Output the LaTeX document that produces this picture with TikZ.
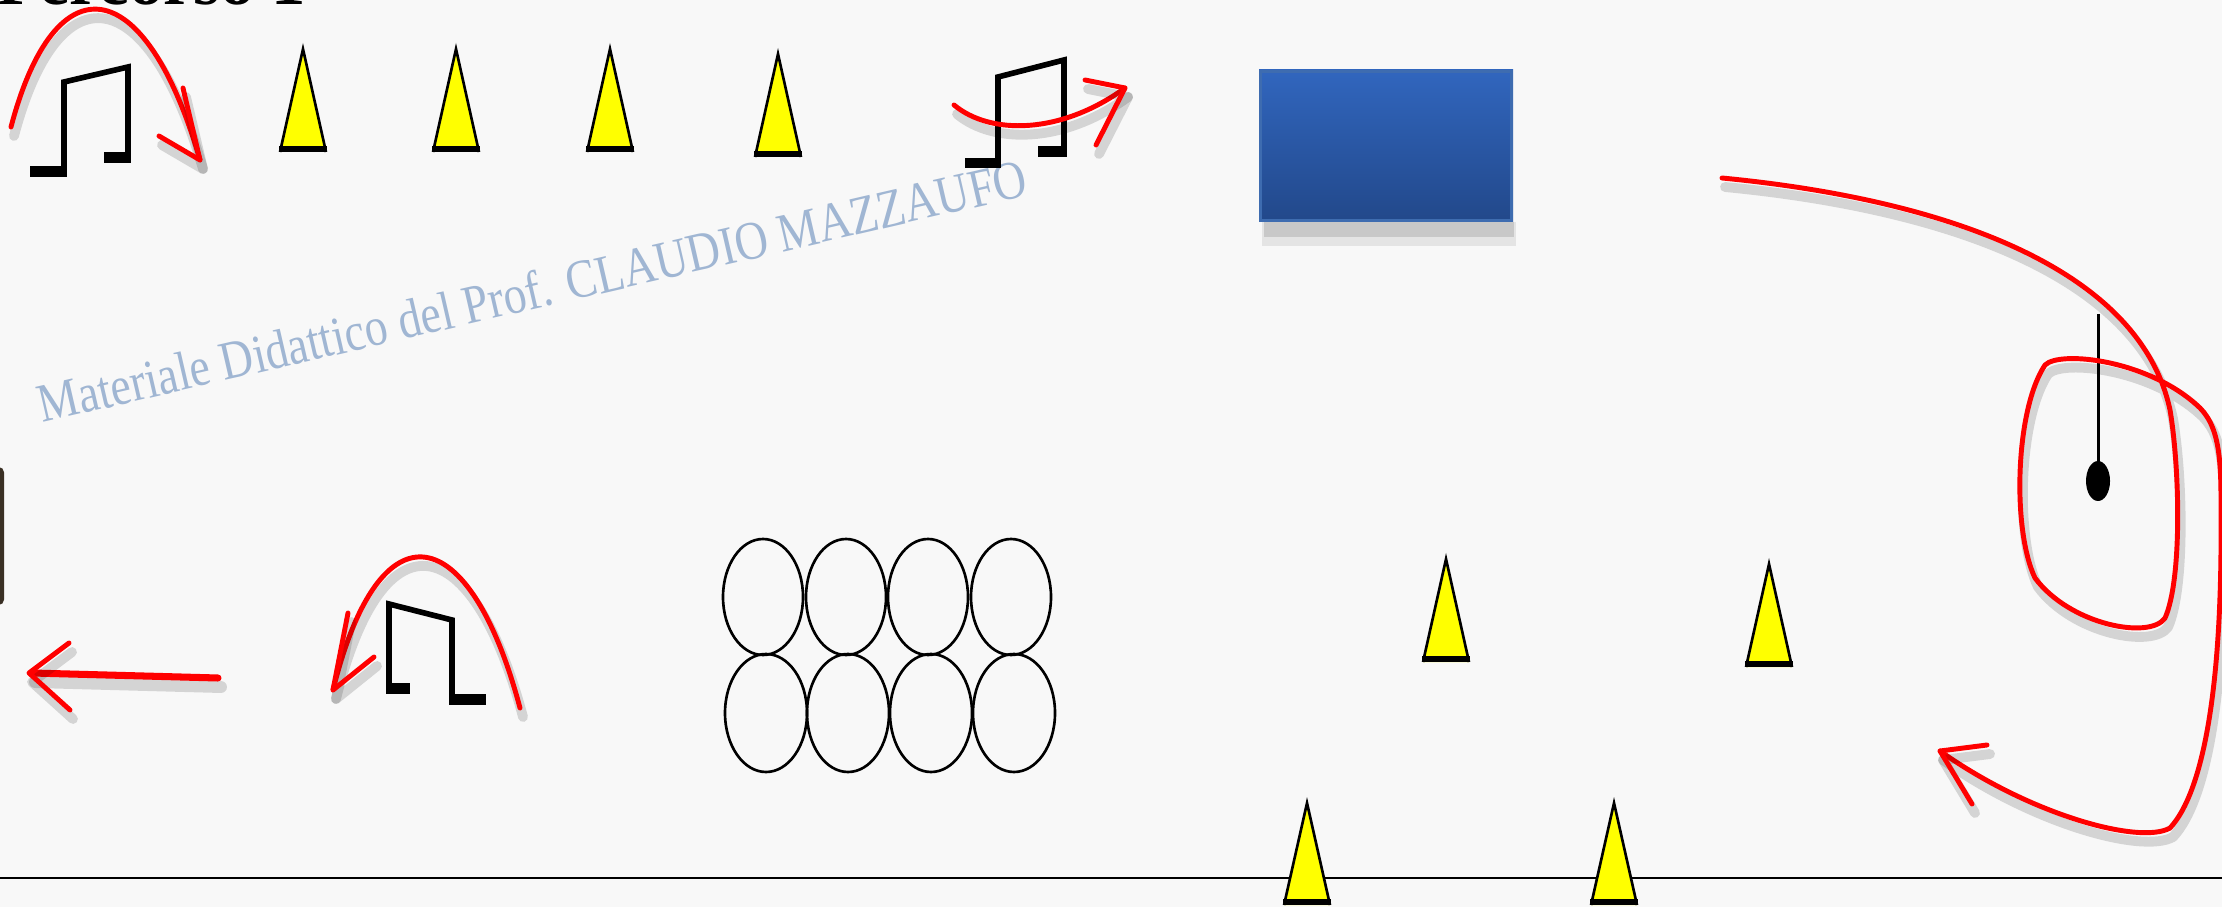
\documentclass[tikz,border=0pt]{standalone}
\usepackage{fontspec}
\setmainfont{Liberation Serif}
\definecolor{bg}{RGB}{248,248,248}
\definecolor{wm}{RGB}{160,182,211}
\definecolor{btop}{RGB}{49,102,190}
\definecolor{bbot}{RGB}{34,72,138}
\definecolor{bbord}{RGB}{62,108,176}
\definecolor{redl}{RGB}{255,0,0}
\definecolor{coney}{RGB}{255,255,0}
\definecolor{darkbr}{RGB}{58,48,36}
\tikzset{
  redpath/.style={draw=redl, line width=1.4pt, line cap=round, line join=round},
  shadowpath/.style={draw=black, opacity=0.14, line width=2.8pt, line cap=round, line join=round},
  notepath/.style={draw=black, line width=1.6pt, line join=miter},
  ring/.style={draw=black, line width=0.75pt},
}
\newcommand{\drawcone}[4]{%
  \fill[coney] (#2-23,#4) -- (#2,#3) -- (#2+23,#4) -- cycle;
  \draw[line width=0.75pt, line join=miter] (#2-23,#4) -- (#2,#3) -- (#2+23,#4);
  \fill[black] (#2-24,#4-6) rectangle (#2+24,#4);
  \coordinate (#1) at (#2,#3);
}
\newcommand{\redshadowed}[1]{%
  \draw[shadowpath, shift={(3,9)}] #1;
  \draw[redpath] #1;
}
\begin{document}
\begin{tikzpicture}[x=0.01cm, y=-0.01cm]
\useasboundingbox (0,0) rectangle (2222,907);
\fill[bg] (0,0) rectangle (2222,907);

% title (mostly cut off)
\node[anchor=base east, inner sep=0, font=\fontsize{19.5}{20}\selectfont\bfseries] (titolo) at (307,5) {Percorso 1};

% watermark
\node[anchor=base west, inner sep=0, rotate=13.0, text=wm, font=\fontsize{15.5}{16}\selectfont] (filigrana) at (42,423) {\scalebox{0.84}[1]{Materiale Didattico del Prof. CLAUDIO MAZZAUFO}};

% dark object at left edge
\fill[darkbr, rounded corners=1.5pt] (-30,467) rectangle (4,605);

% bottom line
\draw[line width=0.8pt] (0,878) -- (2222,878);

% blue block
\fill[black, opacity=0.08] (1262,222) rectangle (1516,246);
\fill[black, opacity=0.12] (1264,222) rectangle (1514,237);
\shade[top color=btop, bottom color=bbot] (1259,70) rectangle (1513,222);
\draw[bbord, line width=0.9pt] (1260.5,71.5) rectangle (1511.5,220.5);

% cones
\drawcone{c1}{303}{49}{152}
\drawcone{c2}{456}{49}{152}
\drawcone{c3}{610}{49}{152}
\drawcone{c4}{778}{54}{157}
\drawcone{c5}{1446}{559}{662}
\drawcone{c6}{1769}{564}{667}
\drawcone{c7}{1307}{803}{905}
\drawcone{c8}{1614}{803}{905}

% notes
\draw[notepath] (64,177) -- (64,82) -- (128,67) -- (128,163);
\fill (30,166) rectangle (67,177);
\fill (104,152) rectangle (131,163);

\draw[notepath] (998,167) -- (998,77) -- (1064,60) -- (1064,156);
\fill (965,158) rectangle (1001,168);
\fill (1038,146) rectangle (1067,157);

\draw[notepath] (389,693) -- (389,604) -- (452,620) -- (452,703);
\fill (386,683) rectangle (410,694);
\fill (449,694) rectangle (486,705);

% rings
\foreach \cx in {763,846,928,1011}
  \draw[ring] (\cx,597) ellipse [x radius=40, y radius=58];
\foreach \cx in {766,848,931,1014}
  \draw[ring] (\cx,713) ellipse [x radius=41, y radius=59];

% pendulum
\draw[line width=0.85pt] (2098,314) -- (2098,470);
\fill (2098,481) ellipse [x radius=12, y radius=20];

% red arrows
\redshadowed{(11,127) .. controls (55,-40) and (145,-30) .. (200,160)}
\redshadowed{(183,88) -- (200,160) -- (159,136)}

\redshadowed{(954,105) .. controls (990,135) and (1060,135) .. (1125,88)}
\redshadowed{(1085,80) -- (1125,88) -- (1096,145)}

\redshadowed{(520,708) .. controls (470,520) and (380,500) .. (333,690)}
\redshadowed{(348,613) -- (333,690) -- (374,657)}

\draw[shadowpath, line width=3.4pt, shift={(3,9)}] (218,678) -- (32,673);
\draw[redpath, line width=2pt] (218,678) -- (32,673);
\redshadowed{(69,643) -- (29,673) -- (70,710)}

\redshadowed{(1722,178) .. controls (1950,200) and (2140,270) .. (2170,410)
  .. controls (2180,470) and (2182,580) .. (2165,618)
  .. controls (2150,640) and (2070,625) .. (2035,578)
  .. controls (2012,530) and (2015,410) .. (2045,365)
  .. controls (2060,350) and (2150,360) .. (2200,408)
  .. controls (2222,430) and (2221,470) .. (2221,520)
  .. controls (2222,680) and (2205,790) .. (2170,828)
  .. controls (2140,845) and (2030,815) .. (1940,751)}
\redshadowed{(1987,745) -- (1940,751) -- (1972,804)}

\end{tikzpicture}
\end{document}
